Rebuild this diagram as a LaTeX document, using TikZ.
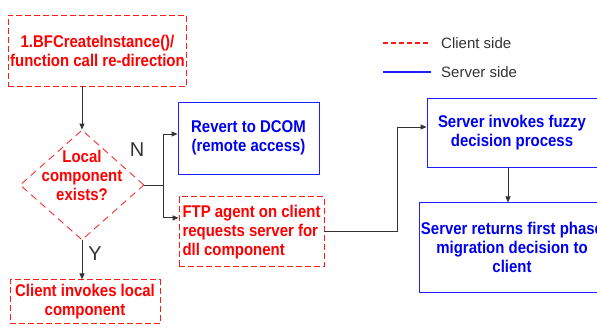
\documentclass[tikz,border=0pt]{standalone}
\usepackage{fontspec}
\setmainfont{Liberation Sans}
\newfontfamily\narrowfamily[FakeStretch=0.88]{Liberation Sans}
\usepackage{tikz}
\usetikzlibrary{positioning,arrows.meta,shapes.geometric}
\definecolor{FlowRed}{HTML}{FF1A1A}
\definecolor{FlowRedText}{HTML}{FF0000}
\definecolor{FlowBlue}{HTML}{1F1FFF}
\definecolor{FlowBlueText}{HTML}{0000F0}
\definecolor{FlowInk}{HTML}{333333}
\newcommand{\flowfont}{\narrowfamily\fontsize{17}{19}\selectfont\bfseries}
\tikzset{
  clientbox/.style={draw=FlowRed, dash pattern=on 6pt off 3pt, line width=0.9pt, align=center, text=FlowRedText, font=\flowfont, inner sep=2pt},
  serverbox/.style={draw=FlowBlue, line width=0.9pt, align=center, text=FlowBlueText, font=\flowfont, inner sep=2pt},
  decision/.style={diamond, draw=FlowRed, dash pattern=on 7pt off 5pt, line width=0.8pt, minimum width=124pt, minimum height=110pt, inner sep=0pt},
  dectext/.style={align=center, text=FlowRedText, font=\flowfont, inner sep=0pt},
  flowarr/.style={-{Triangle[length=6pt,width=5pt]}, line width=0.9pt, draw=FlowInk},
  flowline/.style={line width=0.9pt, draw=FlowInk},
  branchlbl/.style={text=FlowInk, font=\fontsize{20}{22}\selectfont, inner sep=0pt},
  keytext/.style={text=FlowInk, font=\fontsize{15}{18}\selectfont, inner sep=0pt},
  clientkey/.style={color=FlowRed, dash pattern=on 5pt off 3pt, line width=1.2pt},
  serverkey/.style={color=FlowBlue, line width=1.2pt}
}

\begin{document}
\begin{tikzpicture}
\useasboundingbox (0,0) rectangle (597pt,-329pt);
% client side
\node[clientbox, minimum width=175pt, minimum height=71pt] (call) at (97.5pt,-50.5pt) {1.BFCreateInstance()/\\function call re-direction};
\node[decision] (local) at (82pt,-185pt) {};
\node[dectext] (localtxt) at ([yshift=10pt]local.center) {Local\\component\\exists?};
\node[clientbox, minimum width=150pt, minimum height=44pt, below=39pt of local, xshift=3pt] (invoke) {Client invokes local\\component};
\node[serverbox, minimum width=141pt, minimum height=72pt] (revert) at (248.5pt,-138pt) {Revert to DCOM\\(remote access)};
\node[clientbox, align=left, minimum width=145pt, minimum height=70pt, below right=22pt and 1pt of revert.south west] (ftp) {FTP agent on client\\requests server for\\dll component};
% server side
\node[serverbox, minimum width=170pt, minimum height=69pt] (fuzzy) at (512pt,-132.5pt) {Server invokes fuzzy\\decision process};
\node[serverbox, minimum width=186pt, minimum height=90pt, below=35pt of fuzzy] (result) {Server returns first phase\\migration decision to\\client};

% connectors
\draw[flowarr] (local.north |- call.south) -- (local.north);
\draw[flowline] (local.east) -- ++(19pt,0) coordinate (split);
\draw[flowarr] (split) |- ([yshift=4pt]revert.west);
\draw[flowarr] (split) |- ([yshift=14pt]ftp.west);
\draw[flowarr] (local.south) -- (local.south |- invoke.north);
\draw[flowarr] (ftp.east) -- ++(73pt,0) |- ([yshift=5.5pt]fuzzy.west);
\draw[flowarr] ([xshift=-4pt]fuzzy.south) -- ([xshift=-4pt]result.north);
\node[branchlbl] (no) at ([xshift=55pt,yshift=35pt]local.center) {N};
\node[branchlbl] (yes) at ([xshift=13pt,yshift=-13pt]local.south) {Y};

% legend
\coordinate (clientfrom) at (383pt,-43pt);
\coordinate (serverfrom) at (383pt,-72pt);
\draw[clientkey] (clientfrom) -- ++(48pt,0) coordinate (clientto);
\draw[serverkey] (serverfrom) -- ++(48pt,0) coordinate (serverto);
\node[keytext, right=10pt of clientto] (clientlbl) {Client side};
\node[keytext, right=10pt of serverto] (serverlbl) {Server side};
\end{tikzpicture}
\end{document}
